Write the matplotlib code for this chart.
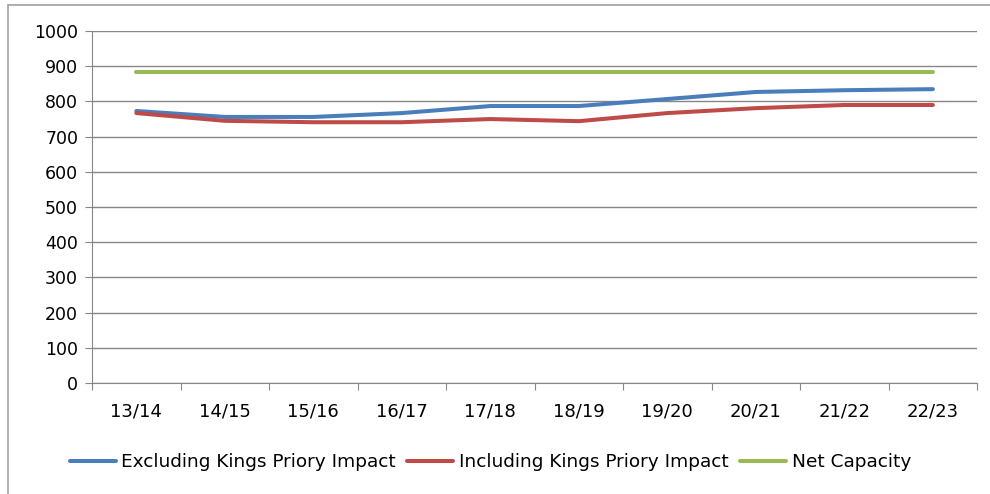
import matplotlib.pyplot as plt
from matplotlib.patches import Rectangle

years = ["13/14", "14/15", "15/16", "16/17", "17/18", "18/19", "19/20", "20/21", "21/22", "22/23"]
excluding = [773, 756, 756, 767, 787, 787, 807, 827, 832, 835]
including = [767, 745, 741, 741, 750, 744, 767, 781, 790, 790]
net_capacity = [885] * 10

fig = plt.figure(figsize=(9.9, 4.94), dpi=100)
ax = fig.add_axes([0.093, 0.225, 0.894, 0.712])

x = range(len(years))
ax.plot(x, excluding, color="#4a7ebb", lw=2.9, label="Excluding Kings Priory Impact", solid_capstyle="round")
ax.plot(x, including, color="#be4b48", lw=2.9, label="Including Kings Priory Impact", solid_capstyle="round")
ax.plot(x, net_capacity, color="#98b954", lw=2.9, label="Net Capacity", solid_capstyle="round")

ax.set_xlim(-0.5, len(years) - 0.5)
ax.set_ylim(0, 1000)
ax.set_yticks(range(0, 1001, 100))
ax.set_xticks([i + 0.5 for i in range(-1, len(years))], minor=False)
ax.set_xticklabels([])
ax.set_xticks(list(x), minor=True)
ax.set_xticklabels(years, minor=True)
ax.tick_params(axis="x", which="minor", length=0, pad=14, labelsize=13)
ax.tick_params(axis="x", which="major", length=5, color="#868686", direction="out")
ax.tick_params(axis="y", length=5, color="#868686", labelsize=12.5, pad=5)

ax.grid(axis="y", color="#868686", lw=1)
ax.set_axisbelow(True)
for s in ["top", "right"]:
    ax.spines[s].set_visible(False)
for s in ["left", "bottom"]:
    ax.spines[s].set_color("#868686")

ax.legend(loc="center", bbox_to_anchor=(0.45, -0.225), ncol=3, frameon=False,
          fontsize=13.3, handlelength=2.5, handletextpad=0.3, columnspacing=0.6)

fig.patches.append(Rectangle((8 / 990, -0.05), 1.1, 1 - 5 / 494 + 0.05, transform=fig.transFigure,
                             fill=False, edgecolor="#a0a0a0", lw=1.2))

fig.savefig("out.png", dpi=100)
